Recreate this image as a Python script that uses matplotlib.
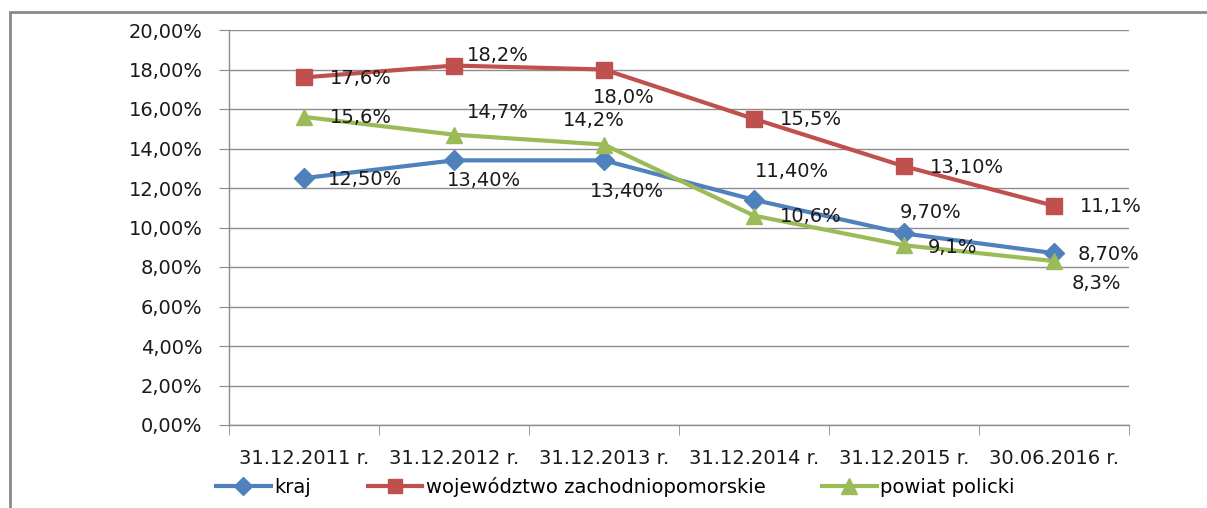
import numpy as np
import matplotlib.pyplot as plt
from matplotlib.patches import Rectangle
from matplotlib.lines import Line2D

plt.rcParams["font.family"] = ["DejaVu Sans"]

CATEGORIES = ["31.12.2011 r.", "31.12.2012 r.", "31.12.2013 r.",
              "31.12.2014 r.", "31.12.2015 r.", "30.06.2016 r."]
SERIES_NAMES = ["kraj", "województwo zachodniopomorskie", "powiat policki"]
KRAJ = [12.5, 13.4, 13.4, 11.4, 9.7, 8.7]
WOJ = [17.6, 18.2, 18.0, 15.5, 13.1, 11.1]
POWIAT = [15.6, 14.7, 14.2, 10.6, 9.1, 8.3]
KRAJ_LABELS = ["12,50%", "13,40%", "13,40%", "11,40%", "9,70%", "8,70%"]
WOJ_LABELS = ["17,6%", "18,2%", "18,0%", "15,5%", "13,10%", "11,1%"]
POWIAT_LABELS = ["15,6%", "14,7%", "14,2%", "10,6%", "9,1%", "8,3%"]
Y_TICKS = [0, 2, 4, 6, 8, 10, 12, 14, 16, 18, 20]

# label offsets in pixels (dx to left edge of text, dy to its centre)
KRAJ_OFF = [(24, -1), (-7, -20), (-14, -31), (1, 28), (-4, 21), (24, -1)]
WOJ_OFF = [(26, -1), (13, 10), (-11, -28), (26, -1), (26, -1), (26, -1)]
POWIAT_OFF = [(26, -1), (13, 22), (-41, 24), (26, -1), (24, -2), (18, -22)]

BLUE, RED, GREEN = "#4F81BD", "#C0504D", "#9BBB59"
GRID = "#8c8c8c"
TXT = "#1a1a1a"
FS = 14

fig = plt.figure(figsize=(12.07, 5.08), dpi=100)
ax = fig.add_axes([229 / 1207, 1 - 425 / 508, 900 / 1207, 395 / 508])

x = np.arange(len(CATEGORIES))
series = [
    (KRAJ, KRAJ_LABELS, KRAJ_OFF, BLUE, "D", 10),
    (WOJ, WOJ_LABELS, WOJ_OFF, RED, "s", 11),
    (POWIAT, POWIAT_LABELS, POWIAT_OFF, GREEN, "^", 12),
]
handles = []
for (vals, labels, offs, col, mk, ms), name in zip(series, SERIES_NAMES):
    ax.plot(x, vals, color=col, lw=3, marker=mk, ms=ms, zorder=3)
    handles.append(Line2D([], [], color=col, lw=3, marker=mk, ms=ms - 1))
    for xi, v, lab, (dx, dy) in zip(x, vals, labels, offs):
        ax.annotate(lab, (xi, v), xytext=(dx, dy), textcoords="offset pixels",
                    ha="left", va="center", fontsize=FS, color=TXT, zorder=4)

ax.set_xlim(-0.5, len(CATEGORIES) - 0.5)
ax.set_ylim(0, 20)
ax.set_yticks(Y_TICKS)
ax.set_yticklabels([f"{t:.2f}%".replace(".", ",") for t in Y_TICKS])
ax.set_xticks(x)
ax.set_xticklabels(CATEGORIES)
ax.set_xticks(np.arange(-0.5, len(CATEGORIES)), minor=True)
ax.tick_params(axis="x", which="major", length=0, pad=17, labelsize=FS,
               labelcolor=TXT)
ax.tick_params(axis="x", which="minor", length=7, color=GRID, direction="out")
ax.tick_params(axis="y", length=7, color=GRID, pad=12, labelsize=FS,
               labelcolor=TXT)

ax.grid(axis="y", color=GRID, lw=1)
ax.set_axisbelow(True)
for s in ["top", "right"]:
    ax.spines[s].set_visible(False)
for s in ["left", "bottom"]:
    ax.spines[s].set_color(GRID)
    ax.spines[s].set_linewidth(1)

fig.legend(handles, SERIES_NAMES, loc="center", bbox_to_anchor=(0.51, 1 - 487 / 508),
           ncol=3, frameon=False, fontsize=FS, handlelength=2.8,
           handletextpad=0.2, columnspacing=2.9, borderpad=0)

fig.patches.append(Rectangle((10 / 1207, -0.05), 1.1, 1 - 12 / 508 + 0.05,
                             transform=fig.transFigure, fill=False,
                             edgecolor="#8a8a8a", lw=2))

fig.savefig("out.png", dpi=100)
